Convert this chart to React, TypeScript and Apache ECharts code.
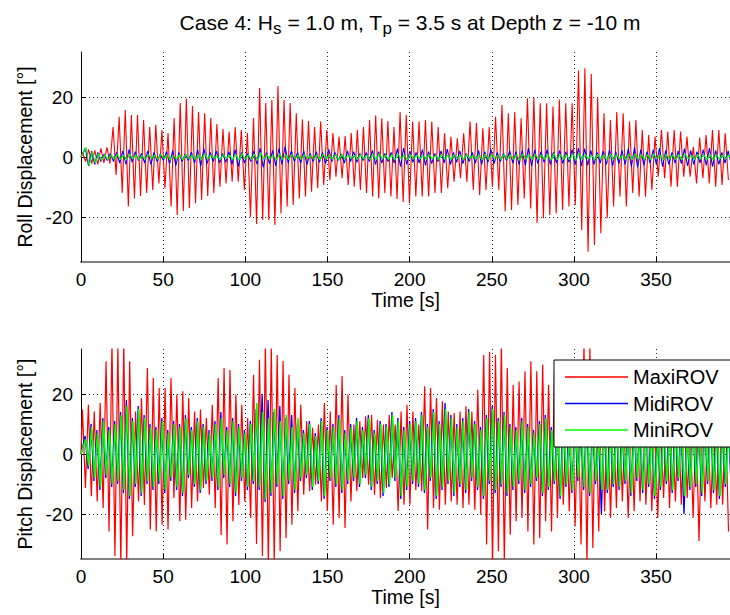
import React, { useEffect, useRef } from "react";
import * as echarts from "echarts";

const X_MAX = 395;
const TIME_TICKS = [0, 50, 100, 150, 200, 250, 300, 350];
const DISP_TICKS = [-20, 0, 20];
const SERIES_NAMES = ["MaxiROV", "MidiROV", "MiniROV"];
const SERIES_COLORS = ["#ff0000", "#0000ff", "#00ff00"];

// ---- Roll (top) : cycle peaks ----
const rollMaxiMax = [
  1.5, 2.5, 2.2, 2.9, 3.2,
  10, 13.4, 15.7, 14, 14, 12.3, 10, 10.7, 9, 8, 13, 18, 19.5, 17, 15, 14.6, 13, 11, 9.3, 8.5, 10, 9, 8, 13, 23, 18, 19, 23.7, 19, 18, 14.6, 12.5, 12, 10, 11.8, 9, 8, 6.8, 7, 8, 9, 10, 12.3, 13.8, 12.9, 12, 10, 15,
  14, 11.8, 11.8, 12.3, 11.8, 10, 7.9, 6.8, 6.2, 7.9, 11.8, 11.3, 9.6, 10, 13.4, 17.3, 14.6, 15, 12.9, 19.6, 19.8, 17.9, 17.9, 16.8, 19.2, 17.9, 17.9, 28.8, 29.6, 27.7, 20, 14.6, 12.3, 15, 14.6, 11.8, 12.3, 9, 7.3, 6.8, 9, 8.5, 9, 8.5, 6.8, 3.4, 6.5, 7.3, 9, 9, 7.9,
];
const rollMaxiMin = [
  -1.5, -2.2, -2.5, -2, -2.2,
  -6, -12, -16.5, -13.8, -13, -12, -11, -8.8, -10.4, -16.5, -19.3, -18, -17, -15.4, -14.3, -13, -12, -9.9, -8.8, -8.2, -8.2, -11, -20, -22.3, -21, -21, -22.7, -18.8, -16.5, -16, -13.8, -13.2, -11.6, -10.4, -9.3, -7.7, -6.6, -7.1, -9.3, -9.9, -11, -12, -13.2, -13.8, -12, -13.2, -14, -15,
  -15.4, -13.2, -13.2, -13.2, -12, -12, -10.4, -8.2, -7.1, -8.2, -11, -12.7, -11, -9.9, -11, -18.2, -17.7, -16, -13.8, -17.2, -22, -20.4, -19.3, -18.8, -17.7, -16.5, -16, -24.3, -31.6, -29.3, -25.4, -20.4, -16.5, -13.2, -16.5, -12, -13.2, -13.2, -11, -6.6, -7.1, -9.9, -9.9, -6.6, -6.6, -8.8, -7.1, -8.8, -9.9, -9.3, -7.7,
];
// cycles 0..52 fall in the first part of the record, the rest in the second
const ROLL_SPLIT = { cycle: 53, time: 197 };
const rollMidiMax = [
  3, 2, 1.5, 1, 1.2, 1.5, 2, 2.5, 1.8, 1.2, 2, 1.5, 1, 1.8, 2.2, 1.5, 1, 1.6, 2.5, 2.8, 1.5, 2, 1.2, 1.8, 2.5, 1.5, 1.2, 2, 3, 1.5,
  2.2, 2.8, 3.5, 2, 1.5, 2, 1.2, 1.8, 1.5, 2.5, 1.5, 1, 2, 1.8, 1.2, 1.5, 2.2, 1.8, 1.2, 1.5, 2.8, 3, 2, 1.5, 2.5, 1.8, 1.2, 2, 2.6, 1.5,
  2, 1.2, 1.5, 2.2, 1.8, 2.5, 1.5, 1.2, 2, 1.8, 2.2, 3, 2.4, 1.8, 2.5, 1.5, 2.2, 1.8, 2.5, 3, 2.8, 2.2, 1.5, 2, 2.5, 1.8, 2.2, 2.8, 3.2, 2.5,
  1.8, 2.5, 3, 2.2, 1.5, 2, 2.8, 2.2, 1.8, 2.5, 3, 2.2, 1.5, 2,
];
const rollMidiMin = [
  -3, -2.5, -1.5, -1.2, -1.5, -2, -2.5, -1.8, -1.2, -2, -2.5, -1.5, -1.2, -2.2, -2.8, -1.5, -1.2, -2, -3, -2.2, -1.5, -2, -1.8, -2.5, -3.2, -2, -1.5, -2.5, -3.5, -2.2,
  -3, -2.5, -2, -1.5, -2, -2.5, -1.5, -1.8, -2.2, -1.5, -1.2, -2, -1.5, -1.8, -1.2, -1.5, -2.5, -2, -1.5, -2, -3.2, -2.5, -1.8, -2, -2.8, -2.2, -1.5, -2, -2.5, -1.8,
  -2.2, -1.5, -2, -2.5, -1.8, -2.2, -1.5, -1.2, -2, -2.5, -2.8, -3, -2.2, -1.8, -2.5, -2, -2.2, -1.8, -2.5, -3, -2.8, -2.5, -2, -2.5, -3, -2.2, -2.5, -3.2, -3.5, -2.8,
  -2, -2.5, -3.2, -2.5, -2, -2.2, -3, -2.5, -2, -2.8, -3.2, -2.5, -2, -2.2,
];
const rollMiniMax = [
  3.2, 1.8, 1.2, 0.8, 0.7, 0.9, 0.6, 1, 0.7, 0.5, 0.8, 0.6, 0.9, 0.7, 0.5, 0.8, 1, 0.6, 0.8, 1.1, 0.7, 0.5, 0.9, 0.6, 0.8, 1.2, 0.7, 0.9, 1.5, 0.8,
  0.6, 1, 0.7, 0.9, 0.6, 0.8, 0.5, 0.7, 0.9, 0.6, 0.8, 1, 0.7, 0.5, 0.8, 0.6, 0.9, 1.2, 0.7, 0.8, 1, 0.6, 0.9, 0.7, 0.5, 0.8, 0.6, 1, 0.7, 0.9,
  0.6, 0.8, 0.5, 0.7, 1, 0.8, 0.6, 0.9, 0.7, 0.8, 1.1, 0.7, 0.9, 0.6, 0.8, 1.2, 0.9, 0.7, 1, 1.3, 0.8, 0.6, 0.9, 0.7, 1, 0.8, 0.6, 0.9, 1.1, 0.7,
  0.8, 1, 0.6, 0.9, 0.7, 0.8, 1, 0.6, 0.9, 0.7, 0.8, 1, 0.7, 0.6,
];
const rollMiniMin = [
  -3, -2, -1.2, -0.9, -0.7, -0.8, -1, -0.6, -0.9, -0.7, -0.5, -0.8, -0.6, -1, -0.7, -0.9, -0.6, -0.8, -1, -0.7, -0.5, -0.9, -0.6, -0.8, -1.1, -0.7, -0.9, -1.2, -0.8, -0.6,
  -1, -0.7, -0.9, -0.6, -0.8, -0.5, -0.7, -0.9, -0.6, -0.8, -1, -0.7, -0.5, -0.8, -0.6, -0.9, -1, -0.7, -0.8, -1, -0.6, -0.9, -0.7, -0.5, -0.8, -0.6, -1, -0.7, -0.9, -0.6,
  -0.8, -0.5, -0.7, -1, -0.8, -0.6, -0.9, -0.7, -0.8, -1.1, -0.7, -0.9, -0.6, -0.8, -1, -0.9, -0.7, -1, -1.2, -0.8, -0.6, -0.9, -0.7, -1, -0.8, -0.6, -0.9, -1, -0.7, -0.8,
  -1, -0.6, -0.9, -0.7, -0.8, -1, -0.6, -0.9, -0.7, -0.8, -1, -0.7, -0.6, -0.8,
];

// ---- Pitch (bottom) : cycle peaks ----
const pitchMaxiMax = [
  14.8, 16.4, 14.2, 17, 30.9, 37, 36, 37, 30.9, 14.2, 18.7, 28.7, 25.3, 22, 22, 25.3, 19.8, 20.9, 18.7, 14.2, 14.8, 12, 16.4, 25.3, 28.7, 28, 19.8, 16.4, 12, 26.4,
  31.4, 37, 36, 33, 31, 26.4, 22, 16.4, 10.9, 8.7, 9.8, 17, 14.2, 23, 26, 19.8, 9.8, 10.9, 12.6, 13.1, 11.4, 9.8, 13.1, 9.8, 14.2, 16.4, 14.2,
  9.8, 22.6, 22, 18.7, 17.6, 14.2, 13.7, 14.2, 15.9, 14.2, 21.4, 33, 34, 33, 37, 28.7, 23, 24.2, 27.6, 30.9, 27.6, 29.8, 23, 27.6, 22, 15.9, 18.7, 17.6, 37, 36,
  22, 19.8, 15.3, 14.2, 18.7, 10.9, 14.2, 15.3, 16.4, 15.3, 12, 9.8, 15.3, 12, 12.6, 14.2, 9.8, 12, 13.1, 10.9, 9.8, 14.2, 13.1,
];
const pitchMaxiMin = [
  -11.3, -14.1, -15.8, -18, -25.8, -34, -37, -36, -27.4, -15.8, -17, -25.2, -25.8, -23.6, -25.2, -14.7, -22.4, -21.9, -18, -15.8, -11.3, -13.6, -18, -27, -30.2, -22.4, -17, -15.8, -21.3, -30,
  -34, -37, -36, -32.4, -28, -23.6, -19.1, -13.6, -12.4, -10.2, -15.8, -19, -23.6, -21.3, -24.7, -15.8, -12.4, -8, -10.2, -13.6, -14.7, -11.3, -8, -19, -16.9, -16.9, -12,
  -12.4, -25.2, -18, -18.6, -16.9, -15.8, -16.9, -18, -16.9, -18.6, -20.2, -30.2, -37, -32.4, -36, -26.9, -22.4, -21.3, -25.8, -30.2, -28, -22.4, -25.8, -21.3, -16.9, -19.1, -24.1, -30.2, -37, -31.3,
  -25.8, -19.1, -21.3, -18, -15.8, -21.3, -19.1, -15.8, -16.9, -19.1, -21.3, -14.7, -18, -15.8, -16.9, -14.7, -21.3, -29, -15.8, -18, -16.9, -16.9, -25.8,
];
const pitchMidiMax = [
  6, 10, 8, 12, 9, 11,
  14, 18, 12, 16, 13, 10,
  9, 12, 8, 11, 10, 13, 9, 12, 10, 8, 11, 14, 9, 12, 10, 8, 11,
  15, 20, 18, 14, 16, 12, 13, 10,
  8, 11, 7, 12, 9, 10, 13, 8,
  10, 12, 9, 13, 8, 11, 10, 14, 12, 9, 11,
  12, 14, 10, 15, 11, 17, 13, 10, 12, 15, 11, 9, 13, 16, 12, 14, 10,
  9, 12, 10, 8, 11, 13, 9, 10, 12, 8, 11, 9, 13, 10, 7, 11, 9, 12, 8, 10, 11, 9, 13, 10, 8, 12, 9, 11, 10, 8, 12, 9, 11, 13, 10, 9, 11,
];
const pitchMidiMin = [
  -5, -9, -12, -8, -11, -10,
  -13, -15, -11, -14, -10, -12,
  -10, -13, -9, -12, -14, -8, -11, -13, -10, -9, -12, -8, -11, -14, -9, -12, -10,
  -12, -16, -14, -11, -15, -10, -13, -9,
  -8, -12, -10, -15, -9, -11, -13, -10,
  -9, -11, -8, -12, -10, -14, -11, -9, -15, -12, -10,
  -11, -13, -9, -15, -12, -10, -14, -11, -13, -9, -12, -15, -10, -13, -11, -14, -12,
  -10, -13, -11, -9, -14, -12, -10, -15, -11, -13, -9, -12, -14, -10, -20, -13, -11, -12, -10, -14, -9, -13, -11, -15, -12, -10, -13, -9, -20, -12, -11, -14, -10, -13, -15, -11, -12,
];
const pitchMiniMax = [
  5, 9, 7, 11, 8, 10,
  13, 16, 11, 15, 12, 9,
  8, 11, 7, 10, 9, 12, 8, 11, 9, 7, 10, 12, 8, 11, 9, 7, 10,
  17, 14, 12, 15, 11, 13, 9, 12,
  7, 10, 6, 11, 8, 9, 12, 7,
  9, 11, 8, 12, 7, 10, 9, 13, 11, 8, 10,
  11, 13, 9, 14, 10, 15, 12, 9, 11, 14, 10, 8, 12, 15, 11, 13, 9,
  8, 11, 9, 7, 10, 12, 8, 9, 11, 7, 10, 8, 12, 9, 6, 10, 8, 11, 7, 9, 10, 8, 12, 9, 7, 11, 8, 10, 9, 7, 11, 8, 10, 12, 9, 8, 10,
];
const pitchMiniMin = [
  -4, -8, -11, -7, -10, -9,
  -12, -14, -10, -13, -9, -11,
  -9, -12, -8, -11, -13, -7, -10, -12, -9, -8, -11, -7, -10, -13, -8, -11, -9,
  -11, -15, -13, -10, -14, -9, -12, -8,
  -7, -11, -9, -14, -8, -10, -12, -9,
  -8, -10, -7, -11, -9, -13, -10, -8, -14, -11, -9,
  -10, -12, -8, -14, -11, -9, -13, -10, -12, -8, -11, -14, -9, -12, -10, -13, -11,
  -9, -12, -10, -8, -13, -11, -9, -14, -10, -12, -8, -11, -13, -9, -12, -12, -10, -11, -9, -13, -8, -12, -10, -14, -11, -9, -12, -8, -14, -11, -10, -13, -9, -12, -14, -10, -11,
];

const FONT = "'Liberation Sans', Arial, Helvetica, sans-serif";

// time of (fractional) cycle index c, optionally piecewise over two parts of the record
function cycleTime(c: number, n: number, split?: { cycle: number; time: number }) {
  if (!split) return (c * X_MAX) / n;
  if (c <= split.cycle) return (c * split.time) / split.cycle;
  return split.time + ((c - split.cycle) * (X_MAX - split.time)) / (n - split.cycle);
}

function zigzag(maxs: number[], mins: number[], phase: number, split?: { cycle: number; time: number }): number[][] {
  const n = Math.min(maxs.length, mins.length);
  const out: number[][] = [[0, 0]];
  for (let i = 0; i < n; i++) {
    out.push([cycleTime(i + phase + 0.25, n, split), maxs[i]]);
    out.push([cycleTime(i + phase + 0.75, n, split), mins[i]]);
  }
  return out;
}

function makeX(gridIndex: number) {
  return {
    type: "value" as const,
    gridIndex,
    min: 0,
    max: X_MAX,
    name: "Time [s]",
    nameLocation: "middle" as const,
    nameGap: 26,
    nameTextStyle: { fontSize: 19.5, color: "#000", fontFamily: FONT },
    axisLine: { show: true, onZero: false, lineStyle: { color: "#808080", width: 2 } },
    axisTick: { show: true, inside: true, length: 5, customValues: TIME_TICKS, lineStyle: { color: "#000", width: 1 } },
    axisLabel: { show: true, customValues: TIME_TICKS, fontSize: 19, color: "#000", fontFamily: FONT, margin: 8 },
    splitLine: { show: true, lineStyle: { color: "#222", width: 1, type: [1, 3] } },
  };
}

function makeY(gridIndex: number, name: string) {
  return {
    type: "value" as const,
    gridIndex,
    min: -35,
    max: 35,
    name,
    nameLocation: "middle" as const,
    nameGap: 45,
    nameRotate: 90,
    nameTextStyle: { fontSize: 19.5, color: "#000", fontFamily: FONT },
    axisLine: { show: true, onZero: false, lineStyle: { color: "#000", width: 1 } },
    axisTick: { show: true, inside: true, length: 5, customValues: DISP_TICKS, lineStyle: { color: "#000", width: 1 } },
    axisLabel: { show: true, customValues: DISP_TICKS, fontSize: 19, color: "#000", fontFamily: FONT, margin: 8 },
    splitLine: { show: true, lineStyle: { color: "#222", width: 1, type: [1, 3] } },
  };
}

function line(name: string, color: string, data: number[][], idx: number, width: number) {
  return {
    type: "line" as const,
    name,
    xAxisIndex: idx,
    yAxisIndex: idx,
    data,
    symbol: "none",
    showSymbol: false,
    clip: true,
    color,
    lineStyle: { color, width },
    emphasis: { disabled: true },
  };
}

export default function App() {
  const ref = useRef<HTMLDivElement>(null);
  useEffect(() => {
    if (!ref.current) return;
    const chart = echarts.init(ref.current, null, { renderer: "svg" });
    const option = {
      animation: false,
      backgroundColor: "#fff",
      textStyle: { fontFamily: FONT },
      graphic: [
        {
          type: "text",
          x: 410,
          y: 22,
          style: {
            text: "Case 4: H{sub|s} = 1.0 m, T{sub|p} = 3.5 s at Depth z = -10 m",
            fontSize: 21,
            fontFamily: FONT,
            fill: "#000",
            align: "center",
            verticalAlign: "middle",
            rich: {
              sub: { fontSize: 17, fontFamily: FONT, fill: "#000", padding: [12, 0, 0, 0] },
            },
          },
        },
      ],
      grid: [
        { left: 81, right: 0, top: 52, height: 210, containLabel: false },
        { left: 81, right: 0, top: 349, height: 210, containLabel: false },
      ],
      xAxis: [makeX(0), makeX(1)],
      yAxis: [makeY(0, "Roll Displacement [°]"), makeY(1, "Pitch Displacement [°]")],
      legend: {
        data: SERIES_NAMES.map((n) => ({ name: n, icon: "rect" })),
        orient: "vertical",
        left: 554,
        top: 360,
        padding: [7, 40, 7, 11],
        itemGap: 6.5,
        itemWidth: 63,
        itemHeight: 1.5,
        itemTextGap: 7,
        selectedMode: false,
        backgroundColor: "#fff",
        borderColor: "#000",
        borderWidth: 1,
        textStyle: { fontSize: 20, lineHeight: 20, color: "#000", fontFamily: FONT },
      },
      series: [
        line(SERIES_NAMES[0], SERIES_COLORS[0], zigzag(rollMaxiMax, rollMaxiMin, 0, ROLL_SPLIT), 0, 1.1),
        line(SERIES_NAMES[1], SERIES_COLORS[1], zigzag(rollMidiMax, rollMidiMin, 0.45), 0, 1.1),
        line(SERIES_NAMES[2], SERIES_COLORS[2], zigzag(rollMiniMax, rollMiniMin, 0.55), 0, 1.1),
        line(SERIES_NAMES[0], SERIES_COLORS[0], zigzag(pitchMaxiMax, pitchMaxiMin, 0), 1, 1.2),
        line(SERIES_NAMES[1], SERIES_COLORS[1], zigzag(pitchMidiMax, pitchMidiMin, 0.45), 1, 1.3),
        line(SERIES_NAMES[2], SERIES_COLORS[2], zigzag(pitchMiniMax, pitchMiniMin, 0.55), 1, 1.6),
      ],
    };
    chart.setOption(option as any);
    return () => chart.dispose();
  }, []);
  return (
    <div
      ref={ref}
      style={{ position: "fixed", left: 0, top: 0, width: 730, height: 615, background: "#fff" }}
    />
  );
}
